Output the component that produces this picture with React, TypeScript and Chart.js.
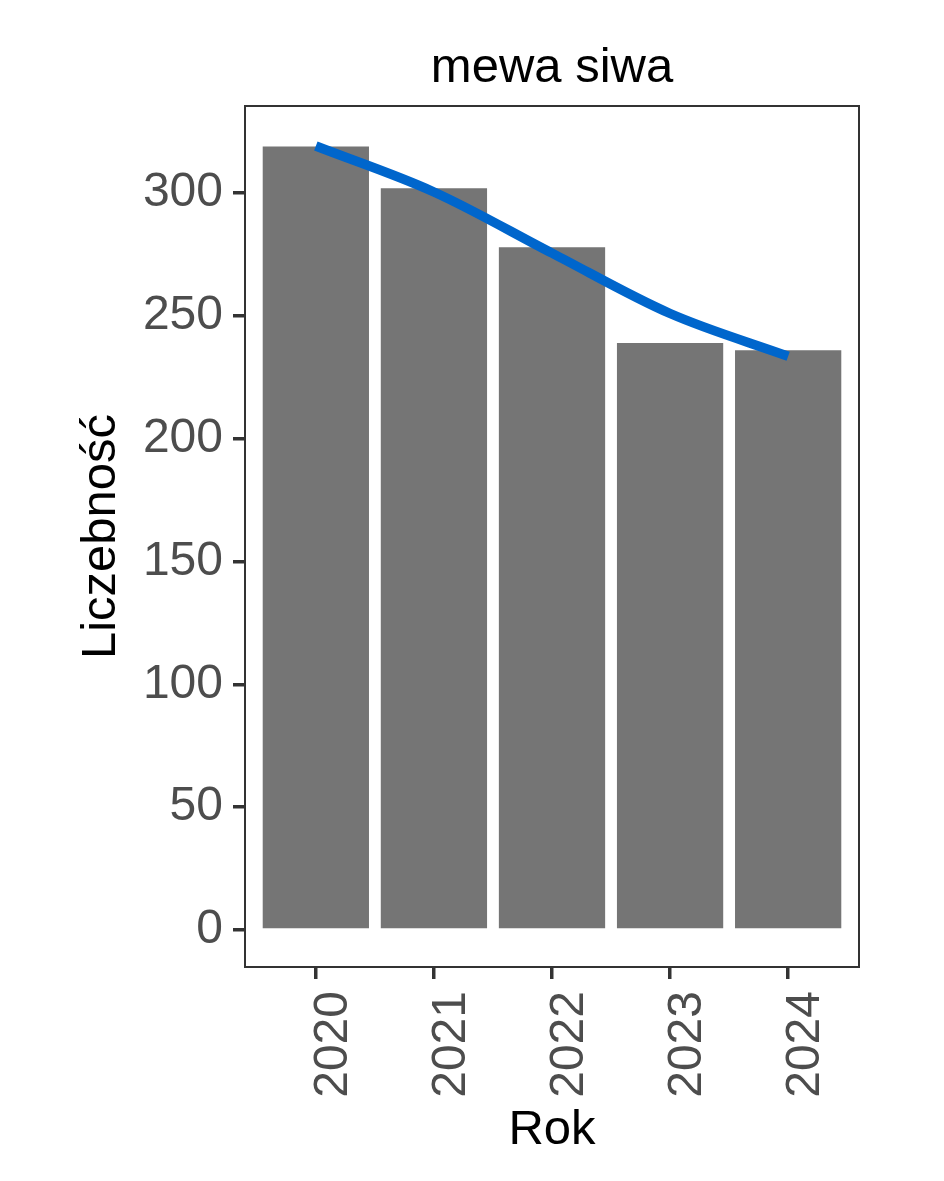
import React, { useEffect, useRef } from "react";
import { Chart, registerables } from "chart.js";

Chart.register(...registerables);

const title = "mewa siwa";
const xTitle = "Rok";
const yTitle = "Liczebność";
const years = ["2020", "2021", "2022", "2023", "2024"];
const counts = [319, 302, 278, 239, 236];
const trend = [319.2, 300.5, 275.6, 251, 233.6];
const yTicks = [0, 50, 100, 150, 200, 250, 300];

const FONT = "'Liberation Sans', Arial, sans-serif";

const panelPlugin = {
  id: "panelPlugin",
  afterDatasetsDraw(chart: any) {
    const { ctx, chartArea } = chart;
    ctx.save();
    ctx.strokeStyle = "#333333";
    ctx.lineWidth = 2;
    ctx.strokeRect(chartArea.left, chartArea.top, chartArea.right - chartArea.left, chartArea.bottom - chartArea.top);
    ctx.restore();
  },
  afterDraw(chart: any) {
    const { ctx, chartArea } = chart;
    ctx.save();
    ctx.fillStyle = "#000000";
    ctx.font = `49px ${FONT}`;
    ctx.textAlign = "center";
    ctx.textBaseline = "alphabetic";
    ctx.fillText(title, (chartArea.left + chartArea.right) / 2, 82);
    ctx.restore();
  },
};

export default function App() {
  const ref = useRef<HTMLCanvasElement | null>(null);

  useEffect(() => {
    document.body.style.margin = "0";
    const canvas = ref.current;
    if (!canvas) return;
    const chart = new Chart(canvas, {
      type: "bar",
      data: {
        datasets: [
          {
            type: "line",
            data: trend.map((v, i) => ({ x: i + 1, y: v })),
            borderColor: "#0066CC",
            borderWidth: 9.5,
            pointRadius: 0,
            fill: false,
            cubicInterpolationMode: "monotone",
            borderCapStyle: "butt",
            order: 0,
          } as any,
          {
            type: "bar",
            data: counts.map((v, i) => ({ x: i + 1, y: v })),
            backgroundColor: "#757575",
            borderWidth: 0,
            barPercentage: 0.9,
            categoryPercentage: 1,
            order: 1,
          } as any,
        ],
      },
      options: {
        animation: false,
        responsive: false,
        devicePixelRatio: 1,
        layout: { padding: { top: 106, right: 85, left: 0, bottom: 0 } },
        plugins: {
          legend: { display: false },
          tooltip: { enabled: false },
          title: { display: false },
        },
        scales: {
          x: {
            type: "linear",
            min: 0.4,
            max: 5.6,
            offset: false,
            afterBuildTicks: (scale: any) => {
              scale.ticks = years.map((_, i) => ({ value: i + 1 }));
            },
            afterFit: (scale: any) => {
              scale.height = 214;
            },
            ticks: {
              callback: (v: any) => years[Math.round(Number(v)) - 1] ?? "",
              minRotation: 90,
              maxRotation: 90,
              autoSkip: false,
              padding: 12,
              labelOffset: 18,
              color: "#4D4D4D",
              font: { size: 48, family: FONT },
            },
            grid: {
              display: true,
              offset: false,
              drawOnChartArea: false,
              drawTicks: true,
              tickLength: 12,
              lineWidth: 3.5,
              tickWidth: 3.5,
              tickColor: "#333333",
              color: "#333333",
            },
            border: { display: false },
            title: {
              display: true,
              text: xTitle,
              color: "#000000",
              font: { size: 49, family: FONT },
              padding: { top: 0, bottom: 21 },
            },
          },
          y: {
            type: "linear",
            min: -15.1,
            max: 335.5,
            afterBuildTicks: (scale: any) => {
              scale.ticks = yTicks.map((v) => ({ value: v }));
            },
            afterFit: (scale: any) => {
              scale.width = 245;
            },
            ticks: {
              padding: 10,
              color: "#4D4D4D",
              font: { size: 48, family: FONT },
            },
            grid: {
              display: true,
              offset: false,
              drawOnChartArea: false,
              drawTicks: true,
              tickLength: 12,
              lineWidth: 3.5,
              tickWidth: 3.5,
              tickColor: "#333333",
              color: "#333333",
            },
            border: { display: false },
            title: {
              display: true,
              text: yTitle,
              color: "#000000",
              font: { size: 49, family: FONT },
              padding: { top: 72, bottom: 0 },
            },
          },
        },
      } as any,
      plugins: [panelPlugin],
    });
    return () => chart.destroy();
  }, []);

  return (
    <div style={{ width: 944, height: 1181, background: "#ffffff" }}>
      <canvas ref={ref} width={944} height={1181} style={{ display: "block" }} />
    </div>
  );
}
